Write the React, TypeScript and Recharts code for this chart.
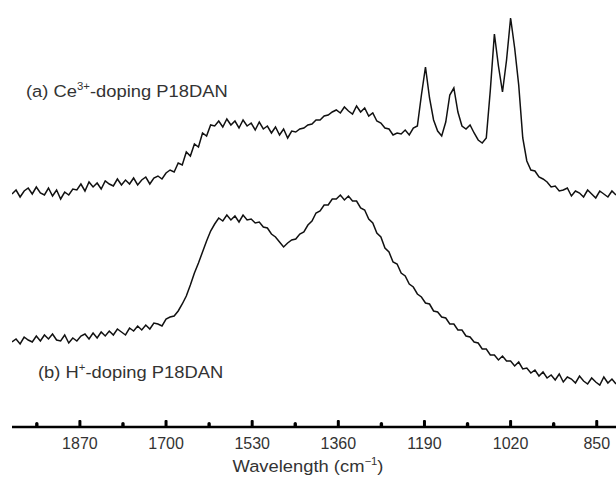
import React from 'react';
import { LineChart, Line, XAxis, YAxis } from 'recharts';

// Wavenumber grid (cm^-1)
const wavenumbers = [
  2004,1996,1988,1980,1972,1964,1956,1948,1940,1932,
  1924,1916,1908,1900,1892,1884,1876,1868,1860,1852,
  1844,1836,1828,1820,1812,1804,1796,1788,1780,1772,
  1764,1756,1748,1740,1732,1724,1716,1708,1700,1692,
  1684,1676,1668,1660,1652,1644,1636,1628,1620,1612,
  1604,1596,1588,1580,1572,1564,1556,1548,1540,1532,
  1524,1516,1508,1500,1492,1484,1476,1468,1460,1452,
  1444,1436,1428,1420,1412,1404,1396,1388,1380,1372,
  1364,1356,1348,1340,1332,1324,1316,1308,1300,1292,
  1284,1276,1268,1260,1252,1244,1236,1228,1220,1212,
  1204,1196,1188,1180,1172,1164,1156,1148,1140,1132,
  1124,1116,1108,1100,1092,1084,1076,1068,1060,1052,
  1044,1036,1028,1020,1012,1004,996,988,980,972,
  964,956,948,940,932,924,916,908,900,892,
  884,876,868,860,852,844,836,828,820,812,
];

// (a) Ce3+-doping P18DAN, intensity (a.u., offset)
const ceDoped = [
  233,237,230,236,239,233,240,234,232,239,
  231,237,228,235,232,238,237,243,236,245,
  240,244,238,246,243,241,248,242,247,243,
  249,242,247,250,243,249,251,248,254,257,
  255,264,262,275,271,283,280,294,291,302,
  301,306,300,308,302,306,299,307,301,304,
  297,305,298,301,294,300,292,298,289,296,
  295,298,299,302,303,307,307,311,312,315,
  317,314,320,316,313,321,315,319,311,314,
  306,304,299,298,292,294,293,297,292,299,
  301,332,360,329,307,296,291,305,332,339,
  315,301,298,302,294,287,284,289,337,393,
  361,335,367,409,379,342,289,266,257,256,
  250,248,245,240,241,236,237,239,231,236,
  234,230,237,233,229,236,233,230,236,232,
];

// (b) H+-doping P18DAN, intensity (a.u., offset)
const hDoped = [
  85,88,83,90,87,85,91,86,92,88,
  93,87,86,92,84,89,86,91,93,88,
  94,89,95,91,96,92,98,95,92,99,
  96,101,97,102,98,104,103,101,108,110,
  111,116,123,131,142,154,164,175,186,196,
  203,209,206,212,207,211,205,212,207,208,
  204,205,200,199,193,190,185,180,184,187,
  188,193,195,202,206,214,216,222,222,228,
  228,232,227,231,226,226,219,217,208,204,
  194,190,179,175,165,163,154,151,143,140,
  133,130,124,123,116,115,110,109,103,103,
  97,97,91,90,85,84,78,78,72,72,
  67,71,66,66,61,65,58,59,54,57,
  51,55,49,52,47,53,45,50,48,44,
  51,46,43,49,45,42,50,44,48,43,
];

const tickValues = [1955, 1870, 1785, 1700, 1615, 1530, 1445, 1360, 1275, 1190, 1105, 1020, 935, 850];
const labelledTicks = [1870, 1700, 1530, 1360, 1190, 1020, 850];

const data = wavenumbers.map((wn, i) => ({ wn, a: ceDoped[i], b: hDoped[i] }));

const FONT = '"Liberation Sans", Arial, Helvetica, sans-serif';

const TickMark = (props: any) => {
  const { x, y, payload } = props;
  const v = payload.value;
  const major = labelledTicks.includes(v);
  return (
    <g>
      {major ? (
        <rect x={x - 1.5} y={y - 7} width={3} height={7} rx={1} fill="#000" />
      ) : (
        <rect x={x - 1.7} y={y - 5} width={3.4} height={5} rx={1.7} fill="#000" />
      )}
      {major && (
        <text x={x} y={y + 22} textAnchor="middle" fontSize={16} fill="#333" fontFamily={FONT}>
          {v}
        </text>
      )}
    </g>
  );
};

export default function App() {
  return (
    <div style={{ position: 'absolute', left: 0, top: 0, width: 616, height: 481, background: '#fff' }}>
      <LineChart width={616} height={481} data={data} margin={{ top: 7, right: 0, bottom: 0, left: 12 }}>
        <XAxis
          dataKey="wn"
          type="number"
          domain={[812, 2004]}
          reversed
          allowDataOverflow
          ticks={tickValues}
          interval={0}
          tick={<TickMark />}
          tickLine={false}
          tickSize={0}
          tickMargin={0}
          axisLine={{ stroke: '#000', strokeWidth: 2.5 }}
          height={54}
        />
        <YAxis hide domain={[0, 420]} allowDataOverflow />
        <Line dataKey="a" type="linear" stroke="#111" strokeWidth={1.5} dot={false} isAnimationActive={false} />
        <Line dataKey="b" type="linear" stroke="#111" strokeWidth={1.5} dot={false} isAnimationActive={false} />
      </LineChart>
      <svg width={616} height={481} style={{ position: 'absolute', left: 0, top: 0, pointerEvents: 'none' }}>
        <text transform="translate(26,97) scale(1.08,1)" fontSize={17} fill="#333" fontFamily={FONT}>
          (a) Ce
          <tspan fontSize={10.5} dy={-7}>3+</tspan>
          <tspan dy={7}>-doping P18DAN</tspan>
        </text>
        <text transform="translate(38,378) scale(1.08,1)" fontSize={17} fill="#333" fontFamily={FONT}>
          (b) H
          <tspan fontSize={10.5} dy={-7}>+</tspan>
          <tspan dy={7}>-doping P18DAN</tspan>
        </text>
        <text transform="translate(308,472) scale(1.08,1)" fontSize={17} fill="#333" fontFamily={FONT} textAnchor="middle">
          Wavelength (cm
          <tspan fontSize={10.5} dy={-7}>−1</tspan>
          <tspan dy={7}>)</tspan>
        </text>
      </svg>
    </div>
  );
}
